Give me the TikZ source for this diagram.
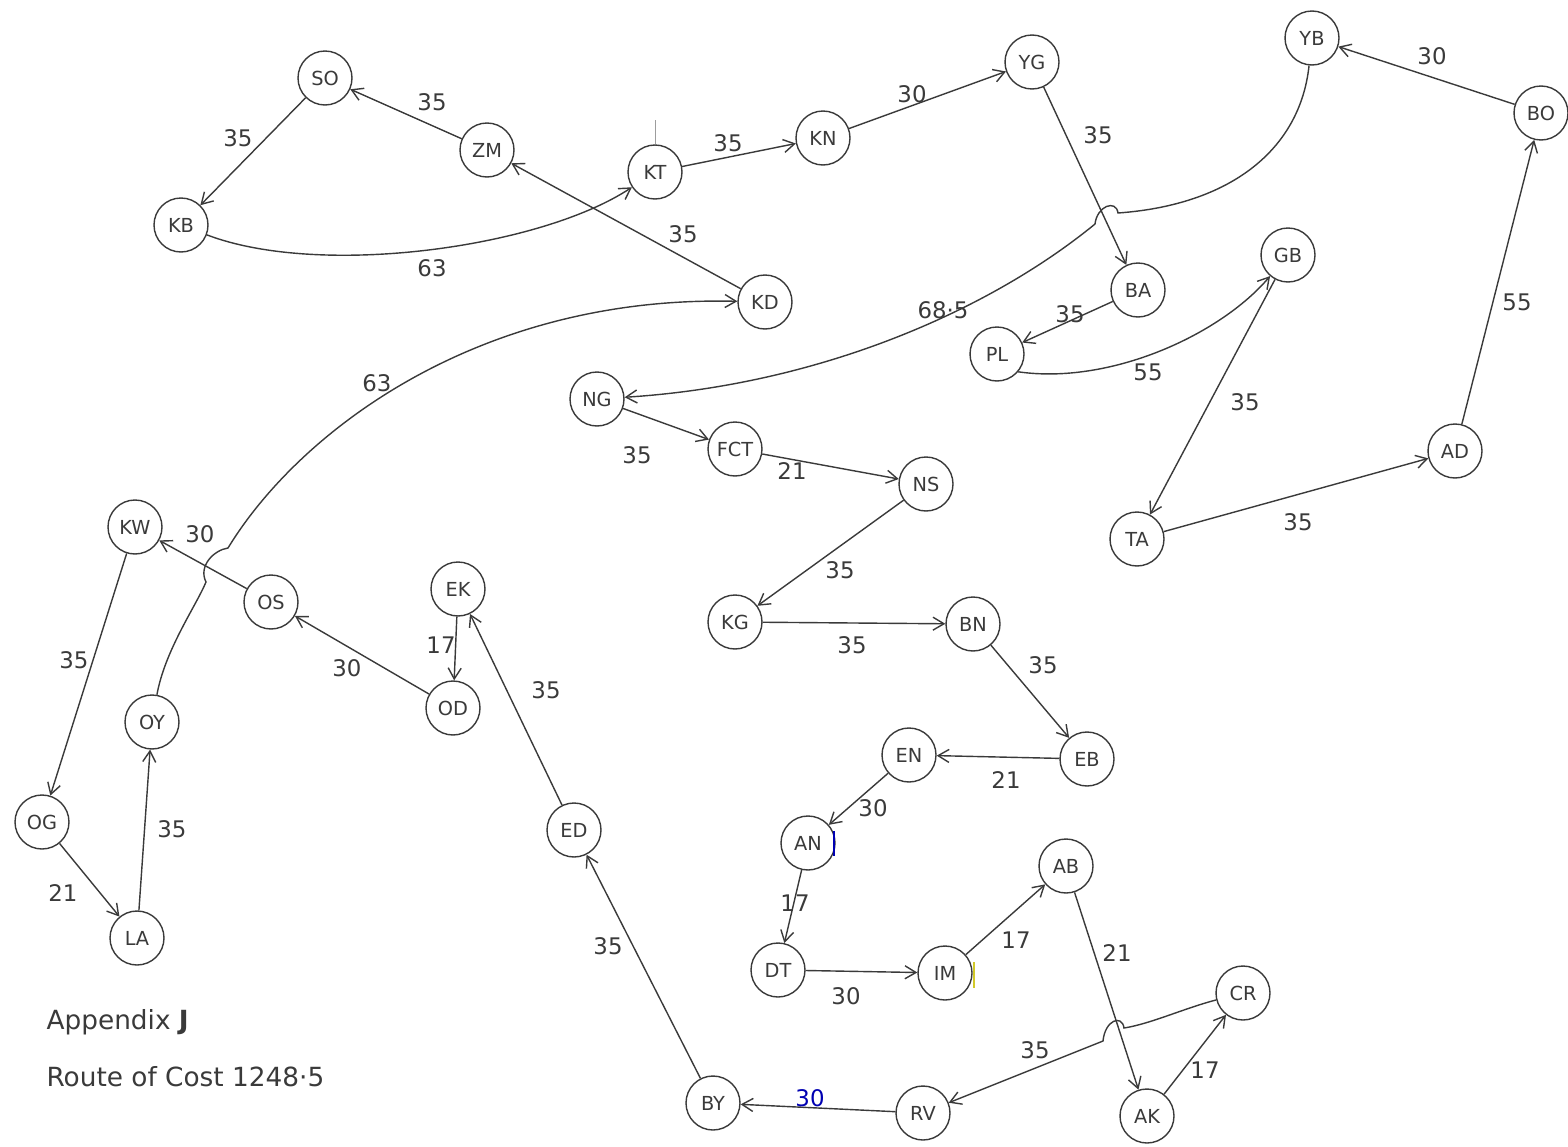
\documentclass[tikz,border=0pt]{standalone}
\usepackage{fontspec}
\setmainfont{DejaVu Sans}
\usetikzlibrary{arrows.meta}
\definecolor{ink}{HTML}{3A3A3A}

\begin{document}
\begin{tikzpicture}[x=0.02cm,y=-0.02cm,>={Straight Barb[length=2.2mm,width=2.6mm]},
 line width=0.8pt,color=ink,font=\fontsize{13}{15}\selectfont,
 st/.style={draw,circle,minimum size=1.08cm,inner sep=0pt,font=\fontsize{11}{13}\selectfont},
 wt/.style={inner sep=1pt}]
\useasboundingbox (0,0) rectangle (1568,1146);
% states
\node[st] (SO) at (325,78) {SO};
\node[st] (ZM) at (487,150) {ZM};
\node[st] (KB) at (181,225) {KB};
\node[st] (KT) at (655,172) {KT};
\node[st] (KN) at (823,138) {KN};
\node[st] (YG) at (1032,62) {YG};
\node[st] (KD) at (765,302) {KD};
\node[st] (YB) at (1312,38) {YB};
\node[st] (BO) at (1541,113) {BO};
\node[st] (BA) at (1138,290) {BA};
\node[st] (GB) at (1288,255) {GB};
\node[st] (PL) at (997,354) {PL};
\node[st] (NG) at (597,399) {NG};
\node[st] (FCT) at (735,449) {FCT};
\node[st] (NS) at (926,484) {NS};
\node[st] (AD) at (1455,451) {AD};
\node[st] (TA) at (1137,539) {TA};
\node[st] (KW) at (135,527) {KW};
\node[st] (OS) at (271,602) {OS};
\node[st] (EK) at (458,589) {EK};
\node[st] (OD) at (453,708) {OD};
\node[st] (KG) at (735,622) {KG};
\node[st] (BN) at (973,624) {BN};
\node[st] (OY) at (152,722) {OY};
\node[st] (EN) at (909,755) {EN};
\node[st] (EB) at (1087,759) {EB};
\node[st] (OG) at (42,822) {OG};
\node[st] (ED) at (574,830) {ED};
\node[st] (AN) at (808,843) {AN};
\node[st] (AB) at (1066,866) {AB};
\node[st] (LA) at (137,938) {LA};
\node[st] (DT) at (778,970) {DT};
\node[st] (IM) at (945,973) {IM};
\node[st] (CR) at (1243,993) {CR};
\node[st] (BY) at (713,1103) {BY};
\node[st] (RV) at (923,1113) {RV};
\node[st] (AK) at (1147,1116) {AK};
% route
\draw[->] (ZM)--(SO); \draw[->] (SO)--(KB);
\draw[->] (KB) .. controls (320,278) and (540,248) .. (KT);
\draw[->] (KT)--(KN); \draw[->] (KN)--(YG); \draw[->] (YG)--(BA); \draw[->] (BA)--(PL);
\draw[->] (PL.-40) .. controls (1110,385) and (1220,335) .. (GB);
\draw[->] (GB)--(TA); \draw[->] (TA)--(AD); \draw[->] (AD)--(BO); \draw[->] (BO)--(YB);
\draw[->] (YB) .. controls (1300,150) and (1230,205) .. (1118,213)
 .. controls (1116,199) and (1097,206) .. (1095,224)
 .. controls (990,310) and (820,385) .. (NG);
\draw[->] (NG)--(FCT); \draw[->] (FCT)--(NS); \draw[->] (NS)--(KG); \draw[->] (KG)--(BN);
\draw[->] (BN)--(EB); \draw[->] (EB)--(EN); \draw[->] (EN)--(AN); \draw[->] (AN)--(DT);
\draw[->] (DT)--(IM); \draw[->] (IM)--(AB); \draw[->] (AB)--(AK); \draw[->] (AK)--(CR);
\draw[->] (CR) .. controls (1185,1008) and (1150,1024) .. (1124,1028)
 .. controls (1122,1014) and (1105,1020) .. (1103,1041) -- (RV);
\draw[->] (RV)--(BY); \draw[->] (BY)--(ED); \draw[->] (ED)--(EK); \draw[->] (EK)--(OD);
\draw[->] (OD)--(OS); \draw[->] (OS)--(KW); \draw[->] (KW)--(OG); \draw[->] (OG)--(LA);
\draw[->] (LA)--(OY);
\draw[->] (OY) .. controls (165,650) and (196,606) .. (206,582)
 .. controls (198,566) and (214,550) .. (228,548)
 .. controls (300,430) and (480,295) .. (KD);
\draw[->] (KD)--(ZM);
% weights
\node[wt] (w1) at (432,102) {35};
\node[wt] (w2) at (238,138) {35};
\node[wt] (w3) at (432,268) {63};
\node[wt] (w4) at (728,143) {35};
\node[wt] (w5) at (912,94) {30};
\node[wt] (w6) at (1098,135) {35};
\node[wt] (w7) at (683,234) {35};
\node[wt] (w8) at (1432,56) {30};
\node[wt] (w9) at (1517,302) {55};
\node[wt] (w10) at (943,310) {68·5};
\node[wt] (w11) at (1070,314) {35};
\node[wt] (w12) at (1148,372) {55};
\node[wt] (w13) at (1245,402) {35};
\node[wt] (w14) at (1298,522) {35};
\node[wt] (w15) at (377,383) {63};
\node[wt] (w16) at (637,455) {35};
\node[wt] (w17) at (792,471) {21};
\node[wt] (w18) at (840,570) {35};
\node[wt] (w19) at (852,645) {35};
\node[wt] (w20) at (1043,665) {35};
\node[wt] (w21) at (1006,780) {21};
\node[wt] (w22) at (873,808) {30};
\node[wt] (w23) at (795,903) {17};
\node[wt] (w24) at (846,996) {30};
\node[wt] (w25) at (1016,940) {17};
\node[wt] (w26) at (1117,953) {21};
\node[wt] (w27) at (1205,1070) {17};
\node[wt] (w28) at (1035,1050) {35};
\node[wt,blue!70!black] (w29) at (810,1098) {30};
\node[wt] (w30) at (608,946) {35};
\node[wt] (w31) at (546,690) {35};
\node[wt] (w32) at (441,645) {17};
\node[wt] (w33) at (347,668) {30};
\node[wt] (w34) at (200,534) {30};
\node[wt] (w35) at (74,660) {35};
\node[wt] (w36) at (63,893) {21};
\node[wt] (w37) at (172,829) {35};
% stray marks
\coordinate (tk) at (655,120);
\draw[line width=0.5pt,ink!50] (KT)--(tk);
\draw[blue!70!black,line width=1pt] (834,831)--(834,856);
\draw[yellow!80!black,line width=1pt] (974,962)--(974,988);
% caption
\node[anchor=west,font=\fontsize{15}{18}\selectfont] (ap) at (40,1022) {Appendix \textbf{J}};
\node[anchor=west,font=\fontsize{15}{18}\selectfont] (rc) at (40,1077) {Route of Cost 1248·5};
\end{tikzpicture}
\end{document}
